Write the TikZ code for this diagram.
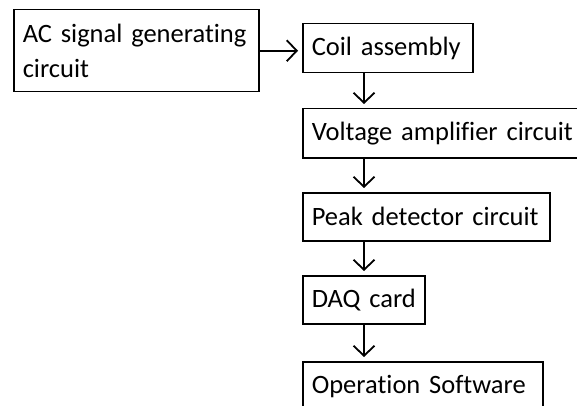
\documentclass[tikz,border=0pt]{standalone}
\usepackage{fontspec}
\setmainfont[Ligatures=NoCommon]{Carlito}
\usetikzlibrary{arrows.meta,positioning}
\tikzset{
	>={Straight Barb[length=10pt,width=21pt,line width=1.8pt]},
	block/.style={draw=black, line width=1.5pt, anchor=north west, inner xsep=9pt, inner ysep=0pt, align=left, font=\fontsize{26.5}{35}\selectfont},
	flow/.style={black, line width=1.8pt, ->, shorten >=4pt},
}
\begin{document}
\begin{tikzpicture}[x=1pt, y=1pt, line join=miter]
	
	% Page frame (right and bottom blocks run off the page)
	\clip (0,0) rectangle (577,-406);
	
	% Signal source
	\node[block, text width=227pt, minimum height=82pt] (gen) at (13,-9) {\mbox{AC signal generating}\\circuit};
	
	% Chain of blocks, left edges on one line
	\node[block, text width=152pt, minimum height=49pt] (coil) at (302,-23) {\mbox{Coil assembly}};
	\node[block, text width=272pt, minimum height=49pt] (volt) at (302,-108) {\mbox{Voltage amplifier circuit}};
	\node[block, text width=229pt, minimum height=48pt] (peak) at (302,-192) {\mbox{Peak detector circuit}};
	\node[block, text width=104pt, minimum height=48pt] (daq) at (302,-275) {\mbox{DAQ card}};
	\node[block, text width=222pt, minimum height=49pt] (ops) at (302,-361) {\mbox{Operation Software}};
	
	% Source into coil
	\draw[flow] (gen.east) -- (gen.east -| coil.west);
	
	% Vertical arrows down the chain
	\coordinate (spine) at (364,0);
	\foreach \a/\b in {coil/volt, volt/peak, peak/daq, daq/ops}
		\draw[flow] (\a.south -| spine) -- (\b.north -| spine);
	
\end{tikzpicture}
\end{document}
